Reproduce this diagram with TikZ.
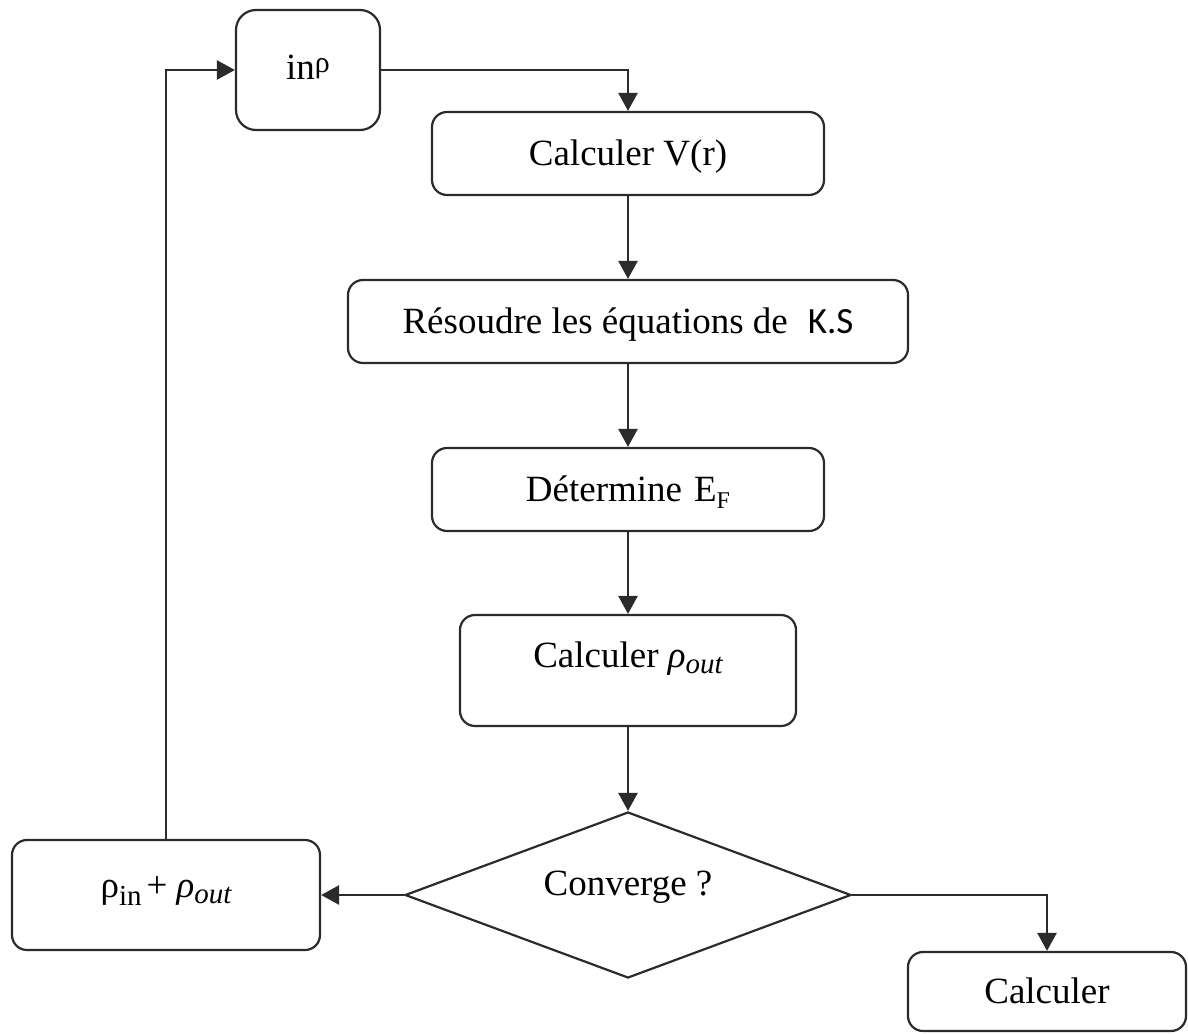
\RequirePackage{fix-cm}
\documentclass[tikz,border=0pt]{standalone}
\usepackage{fontspec}
\setmainfont{Liberation Serif}
\newfontfamily\ksfont{Carlito}
\usetikzlibrary{arrows.meta,shapes.geometric}
\definecolor{ln}{HTML}{2b2b2b}
\newcommand{\subtxt}[2]{\raisebox{#1}{\fontsize{29}{29}\selectfont #2}}
\begin{document}
\begin{tikzpicture}[x=1pt,y=-1pt,
  font=\fontsize{37}{44}\selectfont,
  box/.style={draw=ln, line width=2.2pt, rounded corners=15pt, inner sep=0pt,
              text height=24.5pt, text depth=0pt, align=center},
  txt/.style={inner sep=0pt, text height=24.5pt, text depth=0pt},
  arr/.style={draw=ln, line width=2.6pt, -{Triangle[length=18pt,width=19pt]}},
]
\useasboundingbox (0,0) rectangle (1188,1033);

\node[box, rounded corners=20pt, minimum width=144pt, minimum height=120pt, text depth=6pt] (inrho) at (308,70)
  {in\raisebox{7pt}{\fontsize{30}{30}\selectfont ρ}};
\node[box, minimum width=392pt, minimum height=83pt] (calcV) at (628,153.5) {Calculer V(r)};
\node[box, minimum width=560pt, minimum height=83pt] (resoudre) at (628,321.5)
  {Résoudre les équations de\hspace{20pt}{\ksfont K.S}};
\node[box, minimum width=392pt, minimum height=83pt] (determ) at (628,489.5)
  {Détermine\hspace{12pt}E\raisebox{-7pt}{\fontsize{24}{24}\selectfont F}};
\node[box, minimum width=336pt, minimum height=111pt, text depth=30pt] (calcrho) at (628,670.5)
  {Calculer \textit{ρ\subtxt{-6pt}{out}}};
\node[draw=ln, line width=2.2pt, diamond, minimum width=446pt, minimum height=166pt, inner sep=0pt] (conv) at (628,895) {};
\node[txt, text depth=24pt] (convtxt) at (628,895) {Converge ?};
\node[box, minimum width=308pt, minimum height=110pt, text depth=20pt] (sum) at (166,895)
  {ρ\subtxt{-8pt}{in}\hspace{5pt}+\hspace{9pt}\textit{ρ\subtxt{-6pt}{out}}};
\node[box, minimum width=278pt, minimum height=79pt] (calcfin) at (1047,991.5) {Calculer};

\draw[arr] (inrho.east) -| (calcV.north);
\draw[arr] (calcV.south) -- (resoudre.north);
\draw[arr] (resoudre.south) -- (determ.north);
\draw[arr] (determ.south) -- (calcrho.north);
\draw[arr] (calcrho.south) -- (conv.north);
\draw[arr] (conv.west) -- (sum.east);
\draw[arr] (conv.east) -| (calcfin.north);
\draw[arr] (sum.north) |- (inrho.west);
\end{tikzpicture}
\end{document}
